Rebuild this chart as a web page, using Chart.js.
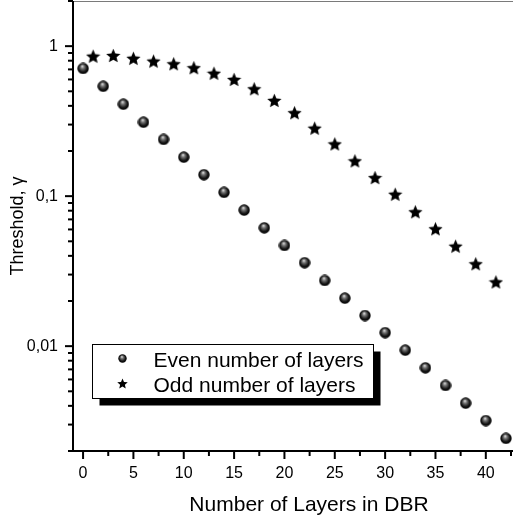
<!DOCTYPE html>
<html>
<head>
<meta charset="utf-8">
<script src="https://cdn.jsdelivr.net/npm/chart.js@4/dist/chart.umd.min.js"></script>
<style>
  html, body { margin: 0; padding: 0; background: #fff; }
  #wrap { position: relative; width: 513px; height: 518px; }
</style>
</head>
<body>
<div id="wrap"><canvas id="chart" width="513" height="518"></canvas></div>
<script>
/* Threshold vs number of DBR layers (log scale) */

const evenLayers    = [0, 2, 4, 6, 8, 10, 12, 14, 16, 18, 20, 22, 24, 26, 28, 30, 32, 34, 36, 38, 40, 42];
const evenThreshold = [0.71, 0.54, 0.41, 0.311, 0.239, 0.182, 0.139, 0.106, 0.0807, 0.0615, 0.0469,
                       0.036, 0.0274, 0.0209, 0.016, 0.0123, 0.0094, 0.00717, 0.00547, 0.00417, 0.00319, 0.00243];

const oddLayers     = [1, 3, 5, 7, 9, 11, 13, 15, 17, 19, 21, 23, 25, 27, 29, 31, 33, 35, 37, 39, 41];
const oddThreshold  = [0.858, 0.867, 0.83, 0.795, 0.763, 0.718, 0.66, 0.6, 0.52, 0.435, 0.36,
                       0.284, 0.223, 0.172, 0.133, 0.103, 0.0787, 0.0606, 0.0464, 0.0354, 0.0268];

const seriesLabels = ["Even number of layers", "Odd number of layers"];

const xMajorTicks = [0, 5, 10, 15, 20, 25, 30, 35, 40];
const xMinorTicks = [2.5, 7.5, 12.5, 17.5, 22.5, 27.5, 32.5, 37.5, 42.5];
const yMajorTicks = [0.01, 0.1, 1];
const yMinorTicks = [0.002, 0.003, 0.004, 0.005, 0.006, 0.007, 0.008, 0.009,
                     0.02, 0.03, 0.04, 0.05, 0.06, 0.07, 0.08, 0.09,
                     0.2, 0.3, 0.4, 0.5, 0.6, 0.7, 0.8, 0.9, 2];

const FONT = "'Liberation Sans', Arial, Helvetica, sans-serif";

// ── Marcadores: esfera sombreada y estrella ──────────────────────────────────

function sphereImg(d) {
  const c = document.createElement("canvas");
  c.width = c.height = d;
  const g = c.getContext("2d");
  const r = d / 2;
  const grad = g.createRadialGradient(r * 0.85, r * 0.6, 0, r, r, r);
  grad.addColorStop(0,    "#f0f0f0");
  grad.addColorStop(0.3,  "#777");
  grad.addColorStop(0.7,  "#141414");
  grad.addColorStop(1,    "#000");
  g.fillStyle = grad;
  g.beginPath();
  g.arc(r, r, r - 0.3, 0, Math.PI * 2);
  g.fill();
  return c;
}

function starImg(d) {
  const c = document.createElement("canvas");
  c.width = c.height = d;
  const g = c.getContext("2d");
  const R = d / 2, ri = R * 0.46, cx = d / 2, cy = d / 2 + R * 0.1;
  g.fillStyle = "#000";
  g.beginPath();
  for (let k = 0; k < 10; k++) {
    const a = -Math.PI / 2 + k * Math.PI / 5;
    const rr = k % 2 === 0 ? R : ri;
    g.lineTo(cx + rr * Math.cos(a), cy + rr * Math.sin(a));
  }
  g.closePath();
  g.fill();
  return c;
}

const sphere      = sphereImg(12);
const star        = starImg(15);
const sphereSmall = sphereImg(9);
const starSmall   = starImg(11);

// ── Ejes estilo Origin ──────────────────────────────────────────────────────

const axesPlugin = {
  id: "originAxes",
  afterDraw(chart) {
    const { ctx, chartArea: a, scales: { x, y } } = chart;
    const line = (x1, y1, x2, y2) => { ctx.beginPath(); ctx.moveTo(x1, y1); ctx.lineTo(x2, y2); ctx.stroke(); };
    ctx.save();
    ctx.strokeStyle = "#7a7a7a";
    ctx.lineWidth = 1;
    line(a.left, a.top + 0.5, a.right, a.top + 0.5);

    ctx.strokeStyle = "#000";
    ctx.lineWidth = 2;
    line(a.left, a.top, a.left, a.bottom + 1);
    line(a.left - 1, a.bottom, a.right, a.bottom);

    xMajorTicks.forEach(v => { const p = x.getPixelForValue(v); line(p, a.bottom, p, a.bottom + 8); });
    xMinorTicks.forEach(v => { const p = x.getPixelForValue(v); line(p, a.bottom, p, a.bottom + 5); });
    yMajorTicks.forEach(v => { const p = y.getPixelForValue(v); line(a.left, p, a.left - 8, p); });
    yMinorTicks.forEach(v => { const p = y.getPixelForValue(v); line(a.left, p, a.left - 5, p); });

    // título del eje x (el original lo tiene algo a la derecha del centro)
    ctx.fillStyle = "#000";
    ctx.font = `21px ${FONT}`;
    ctx.textAlign = "center";
    ctx.textBaseline = "alphabetic";
    ctx.fillText("Number of Layers in DBR", a.left + 236, 511);
    ctx.restore();
  }
};

// ── Leyenda con sombra ──────────────────────────────────────────────────────

const legendPlugin = {
  id: "shadowLegend",
  afterDraw(chart) {
    const { ctx, chartArea: a } = chart;
    const bx = a.left + 19.5, by = 344.5, bw = 281, bh = 54;
    ctx.save();
    ctx.fillStyle = "#000";
    ctx.fillRect(bx + 7, by + 7, bw, bh);
    ctx.fillStyle = "#fff";
    ctx.fillRect(bx, by, bw, bh);
    ctx.strokeStyle = "#000";
    ctx.lineWidth = 1;
    ctx.strokeRect(bx, by, bw, bh);

    const icons = [sphereSmall, starSmall];
    ctx.font = `21px ${FONT}`;
    ctx.fillStyle = "#000";
    ctx.textAlign = "left";
    ctx.textBaseline = "alphabetic";
    chart.data.datasets.forEach((ds, i) => {
      const cy = by + 14 + i * 25;
      const img = icons[i];
      ctx.drawImage(img, bx + 30 - img.width / 2, cy - img.height / 2);
      ctx.fillText(ds.label, bx + 61, cy + 8);
    });
    ctx.restore();
  }
};

const zeroPad = s => { s.paddingLeft = s.paddingRight = s.paddingTop = s.paddingBottom = 0; };

new Chart(document.getElementById("chart"), {
  type: "scatter",
  data: {
    datasets: [
      {
        label: seriesLabels[0],
        data: evenLayers.map((v, i) => ({ x: v, y: evenThreshold[i] })),
        pointStyle: sphere,
        pointRadius: 6,
        showLine: false,
      },
      {
        label: seriesLabels[1],
        data: oddLayers.map((v, i) => ({ x: v, y: oddThreshold[i] })),
        pointStyle: star,
        pointRadius: 7,
        showLine: false,
      },
    ],
  },
  options: {
    responsive: false,
    animation: false,
    layout: { autoPadding: false, padding: { top: 1, right: 0, bottom: 0, left: 0 } },
    plugins: {
      legend: { display: false },
      tooltip: { enabled: false },
    },
    scales: {
      x: {
        type: "linear",
        min: -1,
        max: 42.7,
        afterBuildTicks: s => { s.ticks = xMajorTicks.map(v => ({ value: v })); },
        afterFit: s => { s.height = 67; zeroPad(s); },
        grid: { display: false, drawTicks: false },
        border: { display: false },
        ticks: {
          padding: 13,
          color: "#000",
          font: { family: FONT, size: 16 },
          maxRotation: 0,
          autoSkip: false,
          callback: v => String(v),
        },
      },
      y: {
        type: "logarithmic",
        min: 0.002,
        max: 2,
        afterBuildTicks: s => { s.ticks = yMajorTicks.map(v => ({ value: v })); },
        afterFit: s => { s.width = 73; zeroPad(s); },
        grid: { display: false, drawTicks: false },
        border: { display: false },
        ticks: {
          padding: 15,
          color: "#000",
          font: { family: FONT, size: 16 },
          autoSkip: false,
          callback: v => String(v).replace(".", ","),
        },
        title: {
          display: true,
          text: "Threshold, γ",
          color: "#000",
          font: { family: FONT, size: 18 },
          padding: { top: 7, bottom: 0 },
        },
      },
    },
  },
  plugins: [axesPlugin, legendPlugin],
});
</script>
</body>
</html>
